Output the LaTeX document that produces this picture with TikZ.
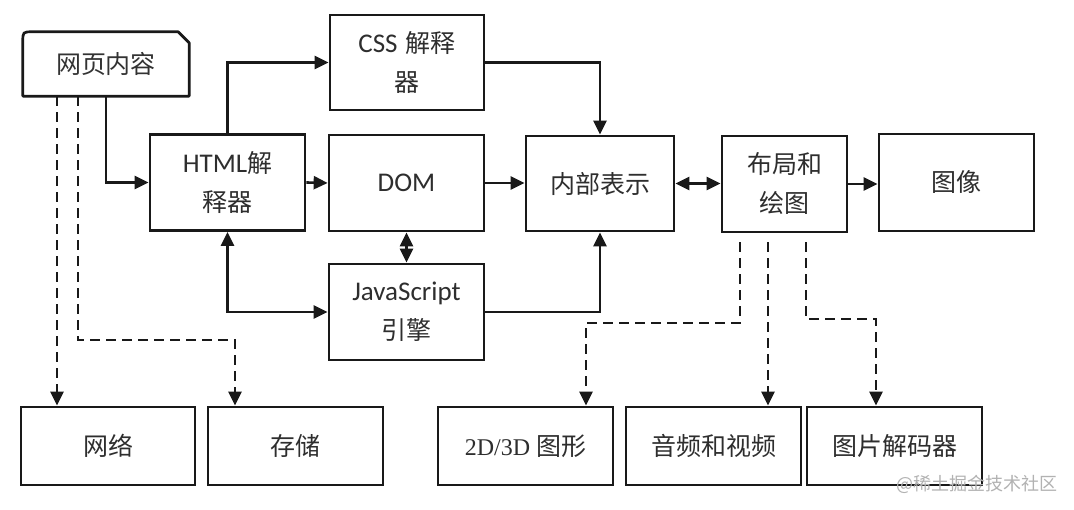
\documentclass[tikz,border=0pt]{standalone}
\usepackage{fontspec}
\setmainfont{Carlito}
\newfontfamily\cjk{Noto Sans CJK SC}
\newfontfamily\serifnum{Liberation Serif}
\usetikzlibrary{arrows.meta,calc}
\begin{document}
\begin{tikzpicture}[x=1pt,y=-1pt,
  box/.style={draw=black!90, line width=2.7pt, minimum width=155pt, minimum height=96pt,
    inner sep=0pt, align=center, text=black!82, font=\fontsize{27}{39}\selectfont},
  lowbox/.style={box, minimum width=175pt, minimum height=78pt},
  conn/.style={line width=2.6pt, draw=black!90, -{Triangle[length=14pt,width=13pt]}},
  biconn/.style={line width=2.6pt, draw=black!90, {Triangle[length=14pt,width=13pt]}-{Triangle[length=14pt,width=13pt]}},
  dconn/.style={conn, dash pattern=on 10pt off 6pt},
  cjkfont/.style={font=\cjk\fontsize{25}{39}\selectfont},
]
\useasboundingbox (0,0) rectangle (1074,510);
\fill[white] (0,0) rectangle (1074,510);

% web content node (custom outline)
\node[minimum width=166pt, minimum height=64pt, inner sep=0pt, text=black!80, cjkfont] (web) at (106,64) {网页内容};
\draw[line width=2.7pt, draw=black!90, line join=round]
  (web.south west) -- ([yshift=-10pt]web.north west)
  .. controls (web.north west) .. ([xshift=10pt]web.north west)
  -- ([xshift=-11pt]web.north east) -- ([yshift=-11pt]web.north east)
  -- (web.south east) -- cycle;

% main boxes
\node[box] (html) at (227.5,182.5) {HTML{\cjk\fontsize{25}{39}\selectfont 解}\\{\cjk\fontsize{25}{39}\selectfont 释器}};
\node[box, minimum width=154pt, minimum height=95pt] (css) at (407,62.5) {CSS\hspace{8pt}{\cjk\fontsize{25}{39}\selectfont 解释}\\{\cjk\fontsize{25}{39}\selectfont 器}};
\node[box] (dom) at (406.5,183) {DOM};
\node[box] (js) at (406.5,312) {JavaScript\\{\cjk\fontsize{25}{39}\selectfont 引擎}};
\node[box, minimum width=148pt, minimum height=95pt, cjkfont] (inner) at (600,183.5) {内部表示};
\node[box, minimum width=125pt, cjkfont] (layout) at (784.5,184) {布局和\\绘图};
\node[box, minimum height=97pt, cjkfont] (img) at (956.5,182.5) {图像};

% bottom row
\node[lowbox, minimum width=174pt, cjkfont] (net) at (108,446) {网络};
\node[lowbox, cjkfont] (store) at (295.5,446) {存储};
\node[lowbox] (g2d) at (525.5,446) {{\serifnum\fontsize{24}{39}\selectfont 2D/3D}\hspace{6pt}{\cjk\fontsize{25}{39}\selectfont 图形}};
\node[lowbox, cjkfont] (av) at (713.5,446) {音频和视频};
\node[lowbox, cjkfont] (dec) at (894.5,446) {图片解码器};

% solid connectors
\draw[conn] (web.south) |- (html.west);
\draw[conn] (html.north) |- (css.west);
\draw[conn] (css.east) -| (inner.north);
\draw[conn] (html.east) -- (dom.west);
\draw[conn] (dom.east) -- (dom.east -| inner.west);
\draw[biconn] (dom.south) -- (js.north);
\draw[biconn] (html.south) |- (js.west);
\draw[conn] (js.east) -| (inner.south);
\draw[biconn] (inner.east) -- (inner.east -| layout.west);
\draw[conn] (layout.east) -- (layout.east -| img.west);

% dashed connectors
\coordinate (w1) at ([xshift=-49pt]web.south);
\coordinate (w2) at ([xshift=-28pt]web.south);
\coordinate (k2) at (235,340);
\draw[dconn] (w1) -- (w1 |- net.north);
\draw[dconn] (w2) |- (k2) -- (k2 |- store.north);

\coordinate (l1) at ([xshift=-44.5pt,yshift=-9pt]layout.south);
\coordinate (l2) at ([xshift=-16.5pt,yshift=-9pt]layout.south);
\coordinate (l3) at ([xshift=21.5pt,yshift=-9pt]layout.south);
\coordinate (k3) at (586,323);
\coordinate (k5) at (876,319);
\draw[dconn] (l1) |- (k3) -- (k3 |- g2d.north);
\draw[dconn] (l2) -- (l2 |- av.north);
\draw[dconn] (l3) |- (k5) -- (k5 |- dec.north);

% watermark
\node[anchor=east, inner sep=0pt, text=black!30, font=\cjk\fontsize{18}{18}\selectfont] (wm) at (1058,484) {@稀土掘金技术社区};
\end{tikzpicture}
\end{document}
